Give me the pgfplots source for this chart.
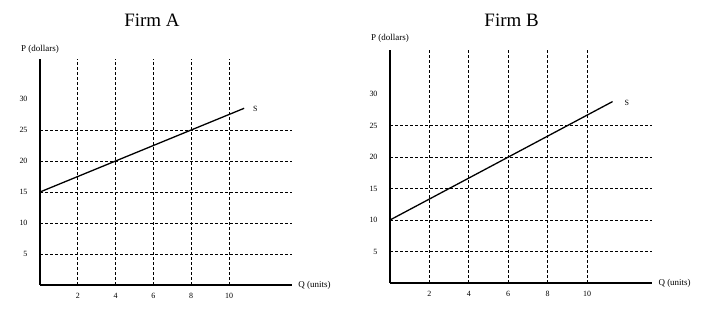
\documentclass[border=0pt]{standalone}
\usepackage{fontspec}
\setmainfont{Liberation Serif}
\usepackage{pgfplots}
\pgfplotsset{compat=1.18}
\newcommand{\tks}{\fontsize{8}{10}\selectfont}
\newcommand{\lbl}{\fontsize{9}{11}\selectfont}
\pgfplotsset{
  firmstyle/.style={
    axis lines=left,
    axis line style={-, line width=1.3bp},
    xmin=0, ymin=0,
    xtick={2,4,6,8,10},
    ytick={5,10,15,20,25},
    extra y ticks={30},
    extra y tick style={grid=none},
    grid=major,
    major grid style={black, line width=0.7bp, dash pattern=on 3bp off 2bp},
    major tick length=0pt,
    tick style={draw=none},
    /pgf/number format/assume math mode=true,
    ticklabel style={font=\tks},
    xticklabel style={yshift=-5bp},
    yticklabel style={xshift=-9bp},
    clip=false,
    anchor=origin,
  }
}
\begin{document}
\begin{tikzpicture}
\useasboundingbox (0,0) rectangle (715bp,323bp);
% Firm A
\begin{axis}[firmstyle,
  at={(40bp,38bp)},
  x=18.9bp, y=6.2bp,
  xmax=13.33, ymax=36.5]
\addplot[black, line width=1.3bp] coordinates {(0,15) (10.8,28.5)} node[anchor=base west, xshift=5bp, yshift=-3bp, font=\tks]{S};
\node[font=\lbl, anchor=base] at (rel axis cs:0,1) [yshift=7bp] {P (dollars)};
\node[font=\lbl, anchor=west] at (rel axis cs:1,0) [xshift=3bp] {Q (units)};
\node[font=\fontsize{19}{22}\selectfont, anchor=base] at (rel axis cs:0.444,1) [yshift=32bp] {Firm A};
\end{axis}
% Firm B
\begin{axis}[firmstyle,
  at={(390bp,40bp)},
  x=19.7bp, y=6.3bp,
  xmax=13.3, ymax=37]
\addplot[black, line width=1.3bp] coordinates {(0,10) (11.3,28.8)} node[anchor=base west, xshift=8bp, yshift=-4bp, font=\tks]{S};
\node[font=\lbl, anchor=base] at (rel axis cs:0,1) [yshift=9bp] {P (dollars)};
\node[font=\lbl, anchor=west] at (rel axis cs:1,0) [xshift=3bp] {Q (units)};
\node[font=\fontsize{19}{22}\selectfont, anchor=base] at (rel axis cs:0.464,1) [yshift=23bp] {Firm B};
\end{axis}
\end{tikzpicture}
\end{document}
